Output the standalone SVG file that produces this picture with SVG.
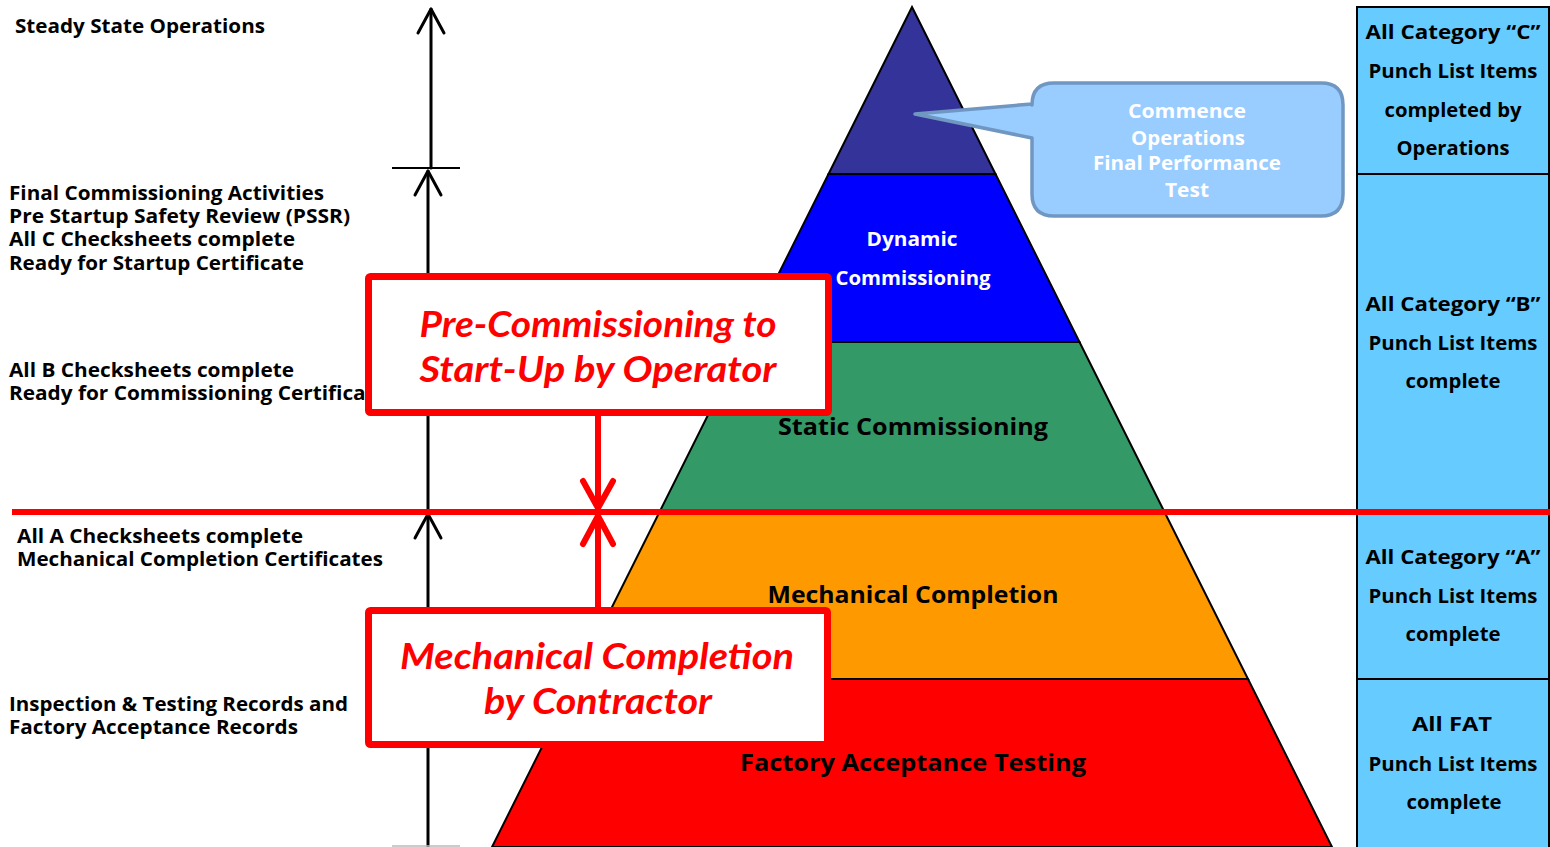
<svg xmlns="http://www.w3.org/2000/svg" width="1550" height="847" viewBox="0 0 1550 847">
<style>
.t{font-family:"Open Sans",Lato,"DejaVu Sans",sans-serif;font-weight:bold;fill:#000}
.lt{font-size:19.5px}
.rc{font-size:19.5px;text-anchor:middle}
.ly{font-size:23px;text-anchor:middle}
.wh{fill:#fff;font-size:19.5px;text-anchor:middle}
.rb{font-family:Lato,"Open Sans","DejaVu Sans",sans-serif;font-weight:bold;font-style:italic;font-size:36px;fill:#ff0000;text-anchor:middle}
.layer{stroke:#000;stroke-width:2}
.ax{stroke:#000;stroke-width:3;fill:none;stroke-linecap:round;stroke-linejoin:round}
.ra{stroke:#ff0000;stroke-width:6;fill:none;stroke-linecap:round;stroke-linejoin:round}
.cell{fill:#66ccff;stroke:#000;stroke-width:2}
.box{fill:#fff;stroke:#ff0000;stroke-width:7}
</style>
<rect width="1550" height="847" fill="#fff"/>

<g id="pyramid">
  <g id="layer-top"><polygon class="layer" points="912,7 995.5,174 828.5,174" fill="#333399"/></g>
  <g id="layer-dynamic"><polygon class="layer" points="828.5,174 995.5,174 1079.5,342 744.5,342" fill="#0000ff"/>
    <text class="t wh" x="912" y="246" textLength="91" lengthAdjust="spacingAndGlyphs">Dynamic</text>
    <text class="t wh" x="913" y="285" textLength="155" lengthAdjust="spacingAndGlyphs">Commissioning</text></g>
  <g id="layer-static"><polygon class="layer" points="744.5,342 1079.5,342 1163.5,510 660.5,510" fill="#339966"/>
    <text class="t ly" x="913" y="435" textLength="270" lengthAdjust="spacingAndGlyphs">Static Commissioning</text></g>
  <g id="layer-mech"><polygon class="layer" points="660.5,510 1163.5,510 1248,679 576,679" fill="#ff9900"/>
    <text class="t ly" x="913" y="603" textLength="291" lengthAdjust="spacingAndGlyphs">Mechanical Completion</text></g>
  <g id="layer-fat"><polygon class="layer" points="576,679 1248,679 1332,847 492,847" fill="#ff0000"/>
    <text class="t ly" x="913" y="771" textLength="346" lengthAdjust="spacingAndGlyphs">Factory Acceptance Testing</text></g>
</g>

<g id="callout">
  <path d="M1054,83 H1321 Q1343,83 1343,105 V194 Q1343,216 1321,216 H1054 Q1032,216 1032,194 V138 L915,114 L1032,104 V105 Q1032,83 1054,83 Z" fill="#99ccff" stroke="#7096c2" stroke-width="3.5" stroke-linejoin="round"/>
  <text class="t wh" x="1187" y="118" textLength="118" lengthAdjust="spacingAndGlyphs">Commence</text>
  <text class="t wh" x="1188" y="145" textLength="114" lengthAdjust="spacingAndGlyphs">Operations</text>
  <text class="t wh" x="1187" y="170" textLength="188" lengthAdjust="spacingAndGlyphs">Final Performance</text>
  <text class="t wh" x="1187" y="197" textLength="44" lengthAdjust="spacingAndGlyphs">Test</text>
</g>

<g id="punch-list">
  <g id="cell-c"><rect class="cell" x="1357" y="7" width="192" height="167"/>
    <text class="t rc" x="1453" y="39" textLength="175" lengthAdjust="spacingAndGlyphs">All Category “C”</text>
    <text class="t rc" x="1453" y="78" textLength="169" lengthAdjust="spacingAndGlyphs">Punch List Items</text>
    <text class="t rc" x="1453" y="117" textLength="137" lengthAdjust="spacingAndGlyphs">completed by</text>
    <text class="t rc" x="1453" y="155" textLength="113" lengthAdjust="spacingAndGlyphs">Operations</text></g>
  <g id="cell-b"><rect class="cell" x="1357" y="174" width="192" height="338"/>
    <text class="t rc" x="1453" y="311" textLength="175" lengthAdjust="spacingAndGlyphs">All Category “B”</text>
    <text class="t rc" x="1453" y="350" textLength="169" lengthAdjust="spacingAndGlyphs">Punch List Items</text>
    <text class="t rc" x="1453" y="388" textLength="95" lengthAdjust="spacingAndGlyphs">complete</text></g>
  <g id="cell-a"><rect class="cell" x="1357" y="512" width="192" height="167"/>
    <text class="t rc" x="1453" y="564" textLength="175" lengthAdjust="spacingAndGlyphs">All Category “A”</text>
    <text class="t rc" x="1453" y="603" textLength="169" lengthAdjust="spacingAndGlyphs">Punch List Items</text>
    <text class="t rc" x="1453" y="641" textLength="95" lengthAdjust="spacingAndGlyphs">complete</text></g>
  <g id="cell-fat"><rect class="cell" x="1357" y="679" width="192" height="170"/>
    <text class="t rc" x="1452" y="731" textLength="80" lengthAdjust="spacingAndGlyphs">All FAT</text>
    <text class="t rc" x="1453" y="771" textLength="169" lengthAdjust="spacingAndGlyphs">Punch List Items</text>
    <text class="t rc" x="1454" y="809" textLength="95" lengthAdjust="spacingAndGlyphs">complete</text></g>
</g>

<g id="left-labels">
  <text class="t lt" x="15" y="33" textLength="250" lengthAdjust="spacingAndGlyphs">Steady State Operations</text>
  <text class="t lt" x="9" y="200" textLength="315" lengthAdjust="spacingAndGlyphs">Final Commissioning Activities</text>
  <text class="t lt" x="9" y="223" textLength="341" lengthAdjust="spacingAndGlyphs">Pre Startup Safety Review (PSSR)</text>
  <text class="t lt" x="9" y="246" textLength="286" lengthAdjust="spacingAndGlyphs">All C Checksheets complete</text>
  <text class="t lt" x="9" y="270" textLength="295" lengthAdjust="spacingAndGlyphs">Ready for Startup Certificate</text>
  <text class="t lt" x="9" y="377" textLength="285" lengthAdjust="spacingAndGlyphs">All B Checksheets complete</text>
  <text class="t lt" x="9" y="400" textLength="378" lengthAdjust="spacingAndGlyphs">Ready for Commissioning Certificate</text>
  <text class="t lt" x="17" y="543" textLength="286" lengthAdjust="spacingAndGlyphs">All A Checksheets complete</text>
  <text class="t lt" x="17" y="566" textLength="366" lengthAdjust="spacingAndGlyphs">Mechanical Completion Certificates</text>
  <text class="t lt" x="9" y="711" textLength="339" lengthAdjust="spacingAndGlyphs">Inspection &amp; Testing Records and</text>
  <text class="t lt" x="9" y="734" textLength="289" lengthAdjust="spacingAndGlyphs">Factory Acceptance Records</text>
</g>

<g id="connectors">
  <line class="ax" x1="431" y1="9" x2="431" y2="168"/>
  <polyline class="ax" points="418,33 431,9 444,33"/>
  <line x1="392" y1="168" x2="460" y2="168" stroke="#000" stroke-width="1.8"/>
  <line class="ax" x1="428" y1="171" x2="428" y2="510"/>
  <polyline class="ax" points="415,195 428,171 441,195"/>
  <line class="ax" x1="428" y1="514" x2="428" y2="847"/>
  <polyline class="ax" points="415,538 428,514 441,538"/>
  <line x1="392" y1="846" x2="460" y2="846" stroke="#bbbbbb" stroke-width="1.5"/>
  <line x1="12" y1="512" x2="1550" y2="512" stroke="#ff0000" stroke-width="6"/>
  <line class="ra" x1="598" y1="412" x2="598" y2="508"/>
  <polyline class="ra" points="583,481 598,508 613,481"/>
  <line class="ra" x1="598" y1="610" x2="598" y2="516"/>
  <polyline class="ra" points="583,544 598,516 613,544"/>
</g>

<g id="box-precommissioning">
  <rect class="box" x="368.5" y="276.5" width="460" height="136" rx="2"/>
  <text class="rb" x="598" y="337" textLength="357" lengthAdjust="spacingAndGlyphs">Pre-Commissioning to</text>
  <text class="rb" x="598" y="382" textLength="357" lengthAdjust="spacingAndGlyphs">Start-Up by Operator</text>
</g>
<g id="box-mechanical">
  <rect class="box" x="368.5" y="610.5" width="459" height="134" rx="2"/>
  <text class="rb" x="597" y="669" textLength="394" lengthAdjust="spacingAndGlyphs">Mechanical Completion</text>
  <text class="rb" x="598" y="714" textLength="228" lengthAdjust="spacingAndGlyphs">by Contractor</text>
</g>
</svg>
